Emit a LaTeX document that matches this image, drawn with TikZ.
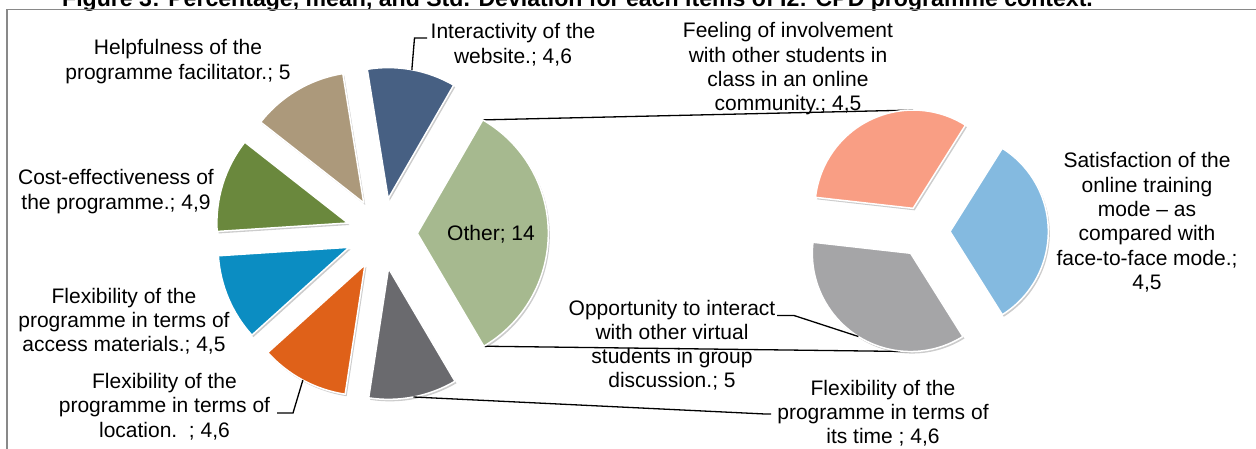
\documentclass[tikz,border=0pt]{standalone}
\usepackage{fontspec}
\setmainfont{Liberation Sans}
\usetikzlibrary{calc}
\definecolor{cnavy}{HTML}{476083}
\definecolor{cbeige}{HTML}{AC997B}
\definecolor{cgreen}{HTML}{6A883D}
\definecolor{cteal}{HTML}{0B8DC2}
\definecolor{corange}{HTML}{DF6119}
\definecolor{cdgray}{HTML}{6A6A6E}
\definecolor{csage}{HTML}{A6B98F}
\definecolor{csalmon}{HTML}{F99E84}
\definecolor{clblue}{HTML}{84BAE0}
\definecolor{clgray}{HTML}{A5A5A7}
\definecolor{cframe}{HTML}{898989}
\newcommand\lbl[1]{\begin{tabular}[t]{@{}c@{}}#1\end{tabular}}
\newcommand\pieslice[6]{%
  \pgfmathsetmacro\pmid{(#4+#5)/2}%
  \fill[black,opacity=.2] ($(#1)+(-\pmid:#2)+(1.5,2)$) -- ++(-#4:#3) arc[start angle=-#4,end angle=-#5,radius=#3] -- cycle;
  \filldraw[fill=#6,draw=white,line width=1.5pt,line join=round] ($(#1)+(-\pmid:#2)$) -- ++(-#4:#3) arc[start angle=-#4,end angle=-#5,radius=#3] -- cycle;
}
\begin{document}
\begin{tikzpicture}[x=1pt,y=-1pt,
  lab/.style={anchor=base,inner sep=0pt,font=\fontsize{21}{24.3}\selectfont},
  lead/.style={draw=black,line width=1.3pt},
  conn/.style={draw=black,line width=1.3pt}]
\useasboundingbox (0,0) rectangle (1256,449);
\clip (0,0) rectangle (1256,449);
\fill[white] (0,0) rectangle (1256,449);
% title (cut off at top, as in the reference)
\node[anchor=base west,inner sep=0pt,font=\fontsize{23.1}{26}\selectfont\bfseries] (title) at (62,6.5)
  {Figure 3: Percentage, mean, and Std. Deviation for each items of I2: CPD programme context.};
% frame
\draw[cframe,line width=1.6pt] (7,449) -- (7,9.5) -- (1256,9.5);
% centres
\coordinate (C1) at (381.8,233.5);
\coordinate (C2) at (924.3,231.5);
% connectors between the pies
\coordinate (otop) at ($(C1)+(-0.25:35.5)+(-60:131)$);
\coordinate (obot) at ($(C1)+(-0.25:35.5)+(-300.5:131)$);
\coordinate (stop) at ($(C2)+(-115.715:25.7)+(-90:98.3)$);
\coordinate (gbot) at ($(C2)+(-237.855:25.7)+(-270:98.3)$);
\draw[conn] (otop) -- (stop);
\draw[conn] (obot) -- (gbot);
% main pie
\pieslice{C1}{35.5}{131}{60}{99.2}{cnavy}
\pieslice{C1}{35.5}{131}{99.2}{141.9}{cbeige}
\pieslice{C1}{35.5}{131}{141.9}{183.7}{cgreen}
\pieslice{C1}{35.5}{131}{183.7}{222.1}{cteal}
\pieslice{C1}{35.5}{131}{222.1}{261.3}{corange}
\pieslice{C1}{35.5}{131}{261.3}{300.5}{cdgray}
\pieslice{C1}{35.5}{131}{300.5}{420}{csage}
% secondary pie
\pieslice{C2}{25.7}{98.3}{-57.86}{57.86}{clblue}
\pieslice{C2}{25.7}{98.3}{57.86}{173.57}{csalmon}
\pieslice{C2}{25.7}{98.3}{173.57}{302.14}{clgray}
% labels
\node[lab] (other) at (491,240.5) {Other; 14};
\node[lab] (help) at (178,55) {\lbl{Helpfulness of the\\programme facilitator.; 5}};
\node[lab] (cost) at (116,185) {\lbl{Cost-effectiveness of\\the programme.; 4,9}};
\node[lab] (access) at (124,303) {\lbl{Flexibility of the\\programme in terms of\\access materials.; 4,5}};
\node[lab] (loc) at (164.5,388.5) {\lbl{Flexibility of the\\programme in terms of\\location.\ \ ; 4,6}};
\node[lab] (inter) at (513,39) {\lbl{Interactivity of the\\website.; 4,6}};
\node[lab] (feel) at (788,38) {\lbl{Feeling of involvement\\with other students in\\class in an online\\community.; 4,5}};
\node[lab] (satis) at (1147,168) {\lbl{Satisfaction of the\\online training\\mode -- as\\compared with\\face-to-face mode.;\\4,5}};
\node[lab] (opp) at (672,315) {\lbl{Opportunity to interact\\with other virtual\\students in group\\discussion.; 5}};
\node[lab] (time) at (883,395) {\lbl{Flexibility of the\\programme in terms of\\its time ; 4,6}};
% leader lines
\coordinate (navymid) at ($(C1)+(-79.6:166.5)$);
\coordinate (orangemid) at ($(C1)+(-241.7:166.5)$);
\coordinate (graymid) at ($(C1)+(-280.9:166.5)$);
\coordinate (lgraymid) at ($(C2)+(-237.855:124)$);
\coordinate (interbend) at (414.5,38);
\coordinate (interend) at (427,38);
\coordinate (locbend) at (293,413);
\coordinate (locend) at (277,413);
\coordinate (oppbend) at (794,315.5);
\coordinate (oppend) at (777,315.5);
\coordinate (timebend) at (765,414);
\coordinate (timeend) at (771,414);
\draw[lead] (navymid) -- (interbend) -- (interend);
\draw[lead] (orangemid) -- (locbend) -- (locend);
\draw[lead] (lgraymid) -- (oppbend) -- (oppend);
\draw[lead] (graymid) -- (timebend) -- (timeend);
\end{tikzpicture}
\end{document}
